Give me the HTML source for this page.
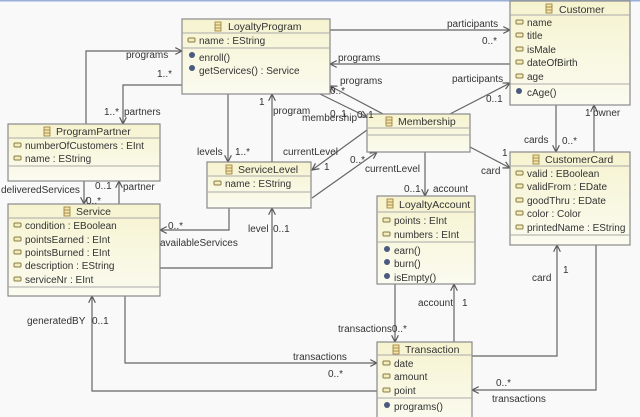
<!DOCTYPE html>
<html><head><meta charset="utf-8"><style>
html,body{margin:0;padding:0;background:#f9f9f9;}
svg{display:block;}
text{font-family:"Liberation Sans",sans-serif;font-size:10px;fill:#333;}
.h{font-size:10.5px;}
.b{fill:url(#g);stroke:#8a8a8a;stroke-width:1.2;}
.s{stroke:#aaa;stroke-width:1;}
.l{fill:none;stroke:#666;stroke-width:1.2;}
.a{fill:none;stroke:#555;stroke-width:1.1;}
.ai{fill:#f0ecc0;stroke:#8a7a40;stroke-width:1;}
.mi{fill:#4a5a80;}
</style></head><body>
<svg width="640" height="417" viewBox="0 0 640 417">
<defs>
<linearGradient id="g" x1="0" y1="0" x2="0" y2="1"><stop offset="0" stop-color="#f6f3cf"/><stop offset="1" stop-color="#fbfbf0"/></linearGradient>
<marker id="ar" viewBox="0 0 10 10" refX="9" refY="5" markerWidth="7" markerHeight="7" orient="auto"><path d="M1,1 L9,5 L1,9" fill="none" stroke="#555" stroke-width="1.4"/></marker>
<g id="ci"><rect x="0" y="0" width="6" height="9" fill="#f0e6b0" stroke="#9a7a30" stroke-width="0.8"/><line x1="0" y1="3" x2="6" y2="3" stroke="#9a7a30" stroke-width="0.8"/><line x1="0" y1="6" x2="6" y2="6" stroke="#9a7a30" stroke-width="0.8"/></g>
<g id="at"><rect x="0" y="0" width="7" height="4" rx="1" class="ai"/></g>
<g id="me"><circle cx="3" cy="3" r="3" class="mi"/></g>
</defs>
<rect x="0" y="0" width="640" height="1.5" fill="#9ab0d8"/>

<!-- connectors -->
<g class="l" marker-end="url(#ar)">
<polyline points="86,124 86,51 182,51"/>
<polyline points="182,85 123,85 123,124"/>
<polyline points="228,94 228,162"/>
<polyline points="272,162 272,94"/>
<polyline points="367,130 312,170"/>
<polyline points="312,198 377,152"/>
<polyline points="320,94 367,117"/>
<polyline points="385,115 330,86"/>
<polyline points="330,30 510,30"/>
<polyline points="510,64 330,64"/>
<polyline points="448,115 510,83"/>
<polyline points="556,105 556,152"/>
<polyline points="594,152 594,105"/>
<polyline points="470,147 510,168"/>
<polyline points="425,152 425,196"/>
<polyline points="84,181 84,204"/>
<polyline points="119,204 119,181"/>
<polyline points="229,208 229,230 160,230"/>
<polyline points="160,268 272,268 272,208"/>
<polyline points="377,391 92,391 92,296"/>
<polyline points="125,296 125,363 377,363"/>
<polyline points="395,284 395,342"/>
<polyline points="454,342 454,284"/>
<polyline points="472,356 557,356 557,245"/>
<polyline points="596,245 596,390 472,390"/>
</g>

<!-- LoyaltyProgram -->
<rect class="b" x="182" y="19" width="148" height="75"/>
<line class="s" x1="182" y1="33" x2="330" y2="33"/><line class="s" x1="182" y1="48" x2="330" y2="48"/>
<use href="#ci" x="215" y="22"/><text class="h" x="228" y="30">LoyaltyProgram</text>
<use href="#at" x="188" y="38"/><text x="199" y="44">name : EString</text>
<use href="#me" x="189" y="52"/><text x="199" y="61">enroll()</text>
<use href="#me" x="189" y="65"/><text x="199" y="74">getServices() : Service</text>

<!-- Customer -->
<rect class="b" x="510" y="1" width="120" height="104"/>
<line class="s" x1="510" y1="15" x2="630" y2="15"/><line class="s" x1="510" y1="84" x2="630" y2="84"/>
<use href="#ci" x="546" y="4"/><text class="h" x="559" y="13">Customer</text>
<use href="#at" x="516" y="20"/><text x="527" y="26">name</text>
<use href="#at" x="516" y="33"/><text x="527" y="39">title</text>
<use href="#at" x="516" y="47"/><text x="527" y="53">isMale</text>
<use href="#at" x="516" y="60"/><text x="527" y="66">dateOfBirth</text>
<use href="#at" x="516" y="74"/><text x="527" y="80">age</text>
<use href="#me" x="516" y="88"/><text x="527" y="96">cAge()</text>

<!-- ProgramPartner -->
<rect class="b" x="8" y="124" width="152" height="57"/>
<line class="s" x1="8" y1="138" x2="160" y2="138"/><line class="s" x1="8" y1="166" x2="160" y2="166"/>
<use href="#ci" x="44" y="127"/><text class="h" x="56" y="135">ProgramPartner</text>
<use href="#at" x="14" y="143"/><text x="25" y="149">numberOfCustomers : EInt</text>
<use href="#at" x="14" y="156"/><text x="25" y="162">name : EString</text>

<!-- ServiceLevel -->
<rect class="b" x="207" y="162" width="104" height="46"/>
<line class="s" x1="207" y1="176" x2="311" y2="176"/><line class="s" x1="207" y1="192" x2="311" y2="192"/>
<use href="#ci" x="226" y="165"/><text class="h" x="238" y="173">ServiceLevel</text>
<use href="#at" x="214" y="181"/><text x="225" y="187">name : EString</text>

<!-- Membership -->
<rect class="b" x="367" y="114" width="103" height="38"/>
<line class="s" x1="367" y1="128" x2="470" y2="128"/><line class="s" x1="367" y1="135" x2="470" y2="135"/>
<use href="#ci" x="386" y="117"/><text class="h" x="398" y="125">Membership</text>

<!-- CustomerCard -->
<rect class="b" x="510" y="152" width="120" height="93"/>
<line class="s" x1="510" y1="166" x2="630" y2="166"/><line class="s" x1="510" y1="235" x2="630" y2="235"/>
<use href="#ci" x="533" y="155"/><text class="h" x="545" y="163">CustomerCard</text>
<use href="#at" x="516" y="171"/><text x="527" y="177">valid : EBoolean</text>
<use href="#at" x="516" y="184"/><text x="527" y="190">validFrom : EDate</text>
<use href="#at" x="516" y="198"/><text x="527" y="204">goodThru : EDate</text>
<use href="#at" x="516" y="211"/><text x="527" y="217">color : Color</text>
<use href="#at" x="516" y="225"/><text x="527" y="231">printedName : EString</text>

<!-- Service -->
<rect class="b" x="8" y="204" width="152" height="92"/>
<line class="s" x1="8" y1="218" x2="160" y2="218"/><line class="s" x1="8" y1="287" x2="160" y2="287"/>
<use href="#ci" x="64" y="207"/><text class="h" x="76" y="215">Service</text>
<use href="#at" x="14" y="223"/><text x="25" y="229">condition : EBoolean</text>
<use href="#at" x="14" y="237"/><text x="25" y="243">pointsEarned : EInt</text>
<use href="#at" x="14" y="250"/><text x="25" y="256">pointsBurned : EInt</text>
<use href="#at" x="14" y="263"/><text x="25" y="269">description : EString</text>
<use href="#at" x="14" y="277"/><text x="25" y="283">serviceNr : EInt</text>

<!-- LoyaltyAccount -->
<rect class="b" x="377" y="196" width="98" height="88"/>
<line class="s" x1="377" y1="212" x2="475" y2="212"/><line class="s" x1="377" y1="242" x2="475" y2="242"/>
<use href="#ci" x="387" y="199"/><text class="h" x="399" y="208">LoyaltyAccount</text>
<use href="#at" x="383" y="218"/><text x="394" y="224">points : EInt</text>
<use href="#at" x="383" y="232"/><text x="394" y="238">numbers : EInt</text>
<use href="#me" x="384" y="246"/><text x="394" y="254">earn()</text>
<use href="#me" x="384" y="259"/><text x="394" y="267">burn()</text>
<use href="#me" x="384" y="273"/><text x="394" y="281">isEmpty()</text>

<!-- Transaction -->
<rect class="b" x="377" y="342" width="95" height="80"/>
<line class="s" x1="377" y1="355" x2="472" y2="355"/><line class="s" x1="377" y1="398" x2="472" y2="398"/>
<use href="#ci" x="393" y="345"/><text class="h" x="405" y="353">Transaction</text>
<use href="#at" x="383" y="361"/><text x="394" y="367">date</text>
<use href="#at" x="383" y="374"/><text x="394" y="380">amount</text>
<use href="#at" x="383" y="388"/><text x="394" y="394">point</text>
<use href="#me" x="384" y="402"/><text x="394" y="410">programs()</text>

<!-- labels -->
<text x="126" y="58">programs</text><text x="157" y="77">1..*</text>
<text x="104" y="137" dy="-22">1..*</text><text x="124" y="115">partners</text>
<text x="197" y="189" dy="-34">levels</text><text x="235" y="155">1..*</text>
<text x="259" y="127" dy="-22">1</text><text x="273" y="139" dy="-25">program</text>
<text x="283" y="155">currentLevel</text><text x="324" y="210" dy="-40">1</text>
<text x="350" y="200" dy="-37">0..*</text><text x="365" y="210" dy="-38">currentLevel</text>
<text x="302" y="152" dy="-31">membership</text><text x="357" y="118">0..1</text>
<text x="340" y="103" dy="-19">programs</text><text x="330" y="117">0..1</text><text x="330" y="94">0..*</text>
<text x="447" y="27">participants</text><text x="482" y="44">0..*</text>
<text x="338" y="61">programs</text>
<text x="452" y="82">participants</text><text x="486" y="102">0..1</text>
<text x="524" y="175" dy="-32">cards</text><text x="562" y="144">0..*</text>
<text x="585" y="141" dy="-25">1</text><text x="593" y="141" dy="-25">owner</text>
<text x="502" y="188" dy="-32">1</text><text x="481" y="211" dy="-37">card</text>
<text x="404" y="233" dy="-41">0..1</text><text x="433" y="192">account</text>
<text x="1" y="237" dy="-44">deliveredServices</text><text x="86" y="249" dy="-45">0..*</text>
<text x="95" y="230" dy="-41">0..1</text><text x="123" y="190">partner</text>
<text x="168" y="229">0..*</text><text x="160" y="246">availableServices</text>
<text x="248" y="285" dy="-53">level</text><text x="273" y="232">0..1</text>
<text x="27" y="324">generatedBY</text><text x="92" y="324">0..1</text>
<text x="293" y="360">transactions</text><text x="328" y="377">0..*</text>
<text x="338" y="406" dy="-74">transactions0..*</text>
<text x="418" y="306">account</text><text x="462" y="306">1</text>
<text x="532" y="343" dy="-62">card</text><text x="563" y="332" dy="-59">1</text>
<text x="496" y="386">0..*</text><text x="492" y="402">transactions</text>
</svg>
</body></html>
